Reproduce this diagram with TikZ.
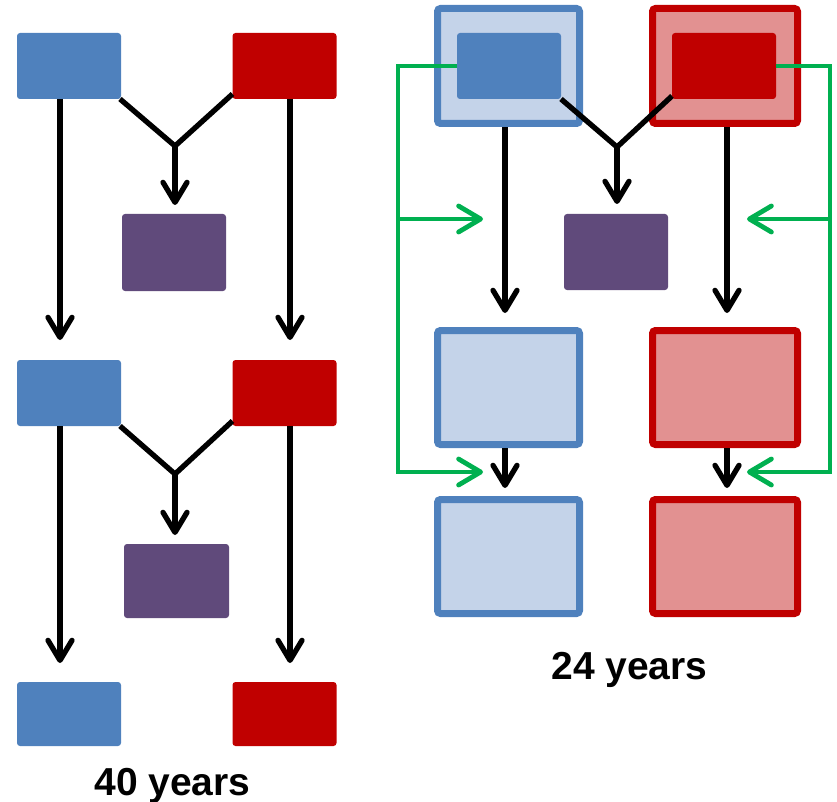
\documentclass[tikz,border=0pt]{standalone}
\usepackage{fontspec}
\setmainfont{Liberation Sans}
\usetikzlibrary{arrows.meta,calc}
\definecolor{cblue}{HTML}{4F81BD}
\definecolor{cred}{HTML}{C00000}
\definecolor{cpurple}{HTML}{604A7B}
\definecolor{lblue}{HTML}{C4D3E9}
\definecolor{lred}{HTML}{E29191}
\definecolor{cgreen}{HTML}{00B050}
\begin{document}
\begin{tikzpicture}[x=1pt,y=-1pt,
  solid box/.style={rounded corners=3pt, inner sep=0pt, outer sep=0pt, draw=none},
  bluebox/.style={solid box, fill=cblue, minimum width=104pt, minimum height=66pt},
  redbox/.style={solid box, fill=cred, minimum width=104pt, minimum height=66pt},
  purplebox/.style={solid box, fill=cpurple, minimum width=104pt, minimum height=76pt},
  lbluebox/.style={rounded corners=3pt, inner sep=0pt, fill=lblue, draw=cblue, line width=7pt, minimum width=142pt, minimum height=114pt},
  lredbox/.style={rounded corners=3pt, inner sep=0pt, fill=lred, draw=cred, line width=7pt, minimum width=145pt, minimum height=114pt},
  ln/.style={black, line width=5.3pt},
  blk/.style={ln, -{Straight Barb[length=20pt, width=24pt, round]}},
  garr/.style={cgreen, line width=4.8pt, -{Straight Barb[length=22pt, width=26pt, round]}},
  lbl/.style={font=\bfseries\fontsize{39}{44}\selectfont, anchor=base, inner sep=0pt}
]
\useasboundingbox (0,0) rectangle (837,802);

% ---------- left panel ----------
\node[bluebox] (LB1) at (69,66) {};
\node[redbox] (LR1) at (284.5,66) {};
\node[purplebox, minimum height=77pt] (LP1) at (174,252.5) {};
\node[bluebox] (LB2) at (69,393) {};
\node[redbox] (LR2) at (284.5,393) {};
\node[purplebox, minimum width=105pt, minimum height=74pt] (LP2) at (176.5,581) {};
\node[bluebox, minimum height=64pt] (LB3) at (69,714) {};
\node[redbox, minimum height=64pt] (LR3) at (284.5,714) {};
\coordinate (J1) at (175,146);
\coordinate (J2) at (175,474);

\draw[blk] ([xshift=-9pt]LB1.south) -- ([xshift=-9pt,yshift=20pt]LB2.north);
\draw[blk] ([xshift=5.5pt]LR1.south) -- ([xshift=5.5pt,yshift=20pt]LR2.north);
\draw[ln] ([xshift=-1pt]LB1.south east) -- (J1) -- ([yshift=5pt]LR1.south west);
\draw[blk] (J1) -- ($(J1 |- LP1.north)+(0,-9)$);

\draw[blk] ([xshift=-9pt]LB2.south) -- ([xshift=-9pt,yshift=19pt]LB3.north);
\draw[blk] ([xshift=5.5pt]LR2.south) -- ([xshift=5.5pt,yshift=19pt]LR3.north);
\draw[ln] ([xshift=-1pt]LB2.south east) -- (J2) -- ([yshift=5pt]LR2.south west);
\draw[blk] (J2) -- ($(J2 |- LP2.north)+(0,-9)$);

\node[lbl] (T1) at (172.5,795) {40 years};

% ---------- right panel ----------
\node[lbluebox, minimum height=115pt] (RBo1) at (508.5,66) {};
\node[bluebox] (RBi1) at (509,66) {};
\node[lredbox, minimum height=115pt] (RRo1) at (725,66) {};
\node[redbox] (RRi1) at (724,66) {};
\node[purplebox] (RP) at (616,252) {};
\node[lbluebox] (RB2) at (508.5,387.5) {};
\node[lredbox] (RR2) at (725,387.5) {};
\node[lbluebox] (RB3) at (508.5,556.5) {};
\node[lredbox] (RR3) at (725,556.5) {};
\coordinate (J3) at (617,147);

\draw[blk] ([xshift=-3.5pt]RBo1.south) -- ([xshift=-3.5pt,yshift=14pt]RB2.north);
\draw[blk] ([xshift=2pt]RRo1.south) -- ([xshift=2pt,yshift=14pt]RR2.north);
\draw[ln] (RBi1.south east) -- (J3) -- ([yshift=3pt]RRi1.south west);
\draw[blk] (J3) -- ($(J3 |- RP.north)+(0,-10)$);
\draw[blk] ([xshift=-3.5pt]RB2.south) -- ([xshift=-3.5pt,yshift=8pt]RB3.north);
\draw[blk] ([xshift=2pt]RR2.south) -- ([xshift=2pt,yshift=8pt]RR3.north);

% green feedback
\coordinate (GL1) at (398,66);
\coordinate (GLm) at (398,219);
\coordinate (GLa) at (483,472);
\coordinate (GLb) at (483,219);
\coordinate (GR1) at (830,66);
\coordinate (GRm) at (830,219);
\coordinate (GRa) at (747,472);
\coordinate (GRb) at (747,219);
\draw[garr] (RBi1.west) -- (GL1) |- (GLa);
\draw[garr] (GLm) -- (GLb);
\draw[garr] (RRi1.east) -- (GR1) |- (GRa);
\draw[garr] (GRm) -- (GRb);

\node[lbl] (T2) at (629.5,679) {24 years};
\end{tikzpicture}
\end{document}
